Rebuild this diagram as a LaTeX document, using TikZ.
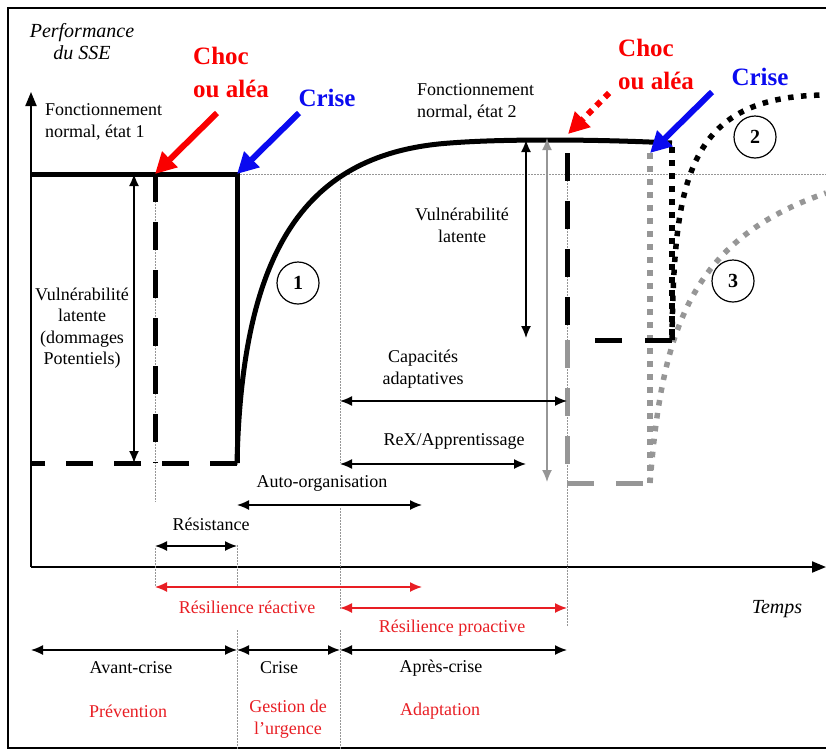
\documentclass[tikz,border=0pt]{standalone}
\usepackage{fontspec}
\setmainfont{Liberation Serif}
\usetikzlibrary{arrows.meta,positioning}
\definecolor{alea}{RGB}{250,0,0}
\definecolor{crisecol}{RGB}{10,10,240}
\definecolor{resred}{RGB}{232,30,36}
\definecolor{greyline}{RGB}{150,150,150}
\tikzset{%
	txt/.style      = {font=\fontsize{18}{22}\selectfont, align=center, inner sep=0pt},
	redtxt/.style   = {txt, text=resred},
	eventtxt/.style = {font=\fontsize{25}{33}\selectfont\bfseries, align=left, inner sep=0pt},
	axtxt/.style    = {font=\fontsize{20}{22}\selectfont\itshape, align=center, inner sep=0pt},
	numcircle/.style= {draw, circle, line width=1.2pt, minimum size=42pt, inner sep=0pt, font=\fontsize{20}{20}\selectfont\bfseries},
	guide/.style    = {greyline, line width=0.8pt, dash pattern=on 1.5pt off 1.5pt},
	perfline/.style = {line width=5pt},
	longdash/.style = {line width=5pt, dash pattern=on 28pt off 20pt},
	sqdots/.style   = {line width=5.5pt, dash pattern=on 5.5pt off 7.5pt},
	spanarrow/.style= {line width=1.4pt, {Latex[length=12pt,width=10pt]}-{Latex[length=12pt,width=10pt]}},
	bigarrow/.style = {line width=6pt, -{Triangle[length=21pt,width=21pt]}},
}
\begin{document}
\begin{tikzpicture}[x=1pt,y=-1pt]
	\useasboundingbox (0,0) rectangle (826,750);
	\draw[line width=2.5pt] (840,8) -- (8,8) -- (8,748) -- (840,748);
	% axes and time marks
	\coordinate (o) at (31,567);
	\coordinate (ytop) at (31,92);
	\coordinate (xend) at (826,567);
	\coordinate (tV) at (134,567);
	\coordinate (tC) at (155,567);
	\coordinate (tK) at (237,567);
	\coordinate (tA) at (340,567);
	\coordinate (tR) at (422,567);
	\coordinate (tX) at (526,567);
	\coordinate (tG) at (547,567);
	\coordinate (tB) at (567,567);
	\draw[line width=2pt,-{Triangle[length=14pt,width=11pt]}] (o) -- (ytop);
	\draw[line width=2pt,-{Triangle[length=14pt,width=11pt]}] (o) -- (xend);
	% levels
	\coordinate (hiL) at (31,174);
	\coordinate (hiC) at (155,174);
	\coordinate (hiK) at (237,174);
	\coordinate (hiR) at (826,174);
	\coordinate (loL) at (31,463);
	\coordinate (loC) at (155,463);
	\coordinate (loK) at (237,463);
	\coordinate (top2) at (672,143);
	\coordinate (dropB) at (567,153);
	\coordinate (midB) at (567,340);
	\coordinate (loB) at (567,483);
	\coordinate (loG) at (650,483);
	\coordinate (hiG) at (650,153);
	\coordinate (hiD) at (672,147);
	\coordinate (midD) at (672,340);
	\coordinate (dashD) at (595,340);
	% thin guides
	\draw[guide] (hiK) -- (hiR);
	\draw[guide] (hiC) -- (155,502) (155,548) -- (155,587);
	\draw[guide] (loK) -- (237,465) (237,545) -- (237,587) (237,630) -- (237,750);
	\draw[guide] (340,174) -- (340,463) (340,508) -- (340,610) (340,630) -- (340,750);
	\draw[guide] (dropB) -- (567,627);
	% situation 1
	\draw[perfline] (hiL) -- (hiK) -- (loK);
	\draw[longdash, dash pattern=on 27pt off 21pt] (loK) -- (loL);
	\draw[longdash] (hiC) -- (loC);
	\draw[perfline] (loK) .. controls (242,250) and (305,153) .. (450,143) .. controls (500,139) and (590,139) .. (top2);
	% situations 2 and 3
	\draw[longdash, greyline] (midB) -- (loB);
	\draw[longdash, greyline, dash pattern=on 27pt off 22pt] (loB) -- (loG);
	\draw[sqdots, greyline] (hiG) -- (loG);
	\draw[sqdots, greyline] (loG) .. controls (662,330) and (690,240) .. (826,193);
	\draw[longdash] (dropB) -- (midB);
	\draw[sqdots] (hiD) -- (midD);
	\draw[longdash, dash pattern=on 27pt off 23pt] (midD) -- (dashD);
	\draw[sqdots] (midD) .. controls (674,180) and (686,96) .. (826,95);
	% circled numbers
	\node[numcircle] (cA) at (298,283) {1};
	\node[numcircle] (cB) at (755,137) {2};
	\node[numcircle] (cC) at (733,281) {3};
	% events
	\node[eventtxt, text=alea, anchor=west] (chocA) at (193,72) {Choc\\ou aléa};
	\node[eventtxt, text=crisecol] (criseA) at (327,98) {Crise};
	\node[eventtxt, text=alea, anchor=west] (chocB) at (618,64) {Choc\\ou aléa};
	\node[eventtxt, text=crisecol] (criseB) at (760,77) {Crise};
	\coordinate (chocAtail) at (217,113);
	\coordinate (criseAtail) at (299,113);
	\coordinate (chocBtail) at (609,93);
	\coordinate (chocBtip) at (568,134);
	\coordinate (criseBtail) at (712,92);
	\draw[bigarrow, alea] (chocAtail) -- (hiC);
	\draw[bigarrow, crisecol] (criseAtail) -- (hiK);
	\draw[bigarrow, alea, dash pattern=on 6pt off 6pt] (chocBtail) -- (chocBtip);
	\draw[bigarrow, crisecol] (criseBtail) -- (hiG);
	% texts
	\node[axtxt] (perf) at (82,42) {Performance\\du SSE};
	\node[axtxt] (temps) at (777,609) {Temps};
	\node[txt, align=left, anchor=west] (etatA) at (45,122) {Fonctionnement\\normal, état 1};
	\node[txt, align=left, anchor=west] (etatB) at (417,102) {Fonctionnement\\normal, état 2};
	\node[txt, font=\fontsize{18}{21.5}\selectfont] (vulA) at (82,328) {Vulnérabilité\\latente\\(dommages\\Potentiels)};
	\node[txt] (vulB) at (462,225) {Vulnérabilité\\latente};
	\node[txt] (capa) at (423,369) {Capacités\\adaptatives};
	\node[txt] (rex) at (454,441) {ReX/Apprentissage};
	\node[txt] (autoorg) at (322,483) {Auto-organisation};
	\node[txt] (resist) at (211,524) {Résistance};
	\node[redtxt] (resreac) at (247,607) {Résilience réactive};
	\node[redtxt] (respro) at (452,628) {Résilience proactive};
	\node[txt] (avant) at (131,668) {Avant-crise};
	\node[txt] (crisep) at (279,668) {Crise};
	\node[txt] (apres) at (441,668) {Après-crise};
	\node[redtxt] (prev) at (128,711) {Prévention};
	\node[redtxt] (gest) at (288,719) {Gestion de\\l'urgence};
	\node[redtxt] (adapt) at (440,711) {Adaptation};
	% spans
	\coordinate (rowCap) at (0,401);
	\coordinate (rowRex) at (0,464);
	\coordinate (rowAuto) at (0,505);
	\coordinate (rowRes) at (0,546);
	\coordinate (rowReac) at (0,587);
	\coordinate (rowPro) at (0,608);
	\coordinate (rowPhase) at (0,650);
	\coordinate (vulTop) at (526,140);
	\coordinate (vulBot) at (526,338);
	\coordinate (grTop) at (547,138);
	\coordinate (grBot) at (547,482);
	\draw[spanarrow] (tV |- hiL) -- (tV |- loL);
	\draw[spanarrow] (vulTop) -- (vulBot);
	\draw[spanarrow, greyline] (grTop) -- (grBot);
	\draw[spanarrow] (tA |- rowCap) -- (tB |- rowCap);
	\draw[spanarrow] (tA |- rowRex) -- (tX |- rowRex);
	\draw[spanarrow] (tK |- rowAuto) -- (tR |- rowAuto);
	\draw[spanarrow] (tC |- rowRes) -- (tK |- rowRes);
	\draw[spanarrow, resred] (tC |- rowReac) -- (tR |- rowReac);
	\draw[spanarrow, resred] (tA |- rowPro) -- (tB |- rowPro);
	\draw[spanarrow] (o |- rowPhase) -- (tK |- rowPhase);
	\draw[spanarrow] (tK |- rowPhase) -- (tA |- rowPhase);
	\draw[spanarrow] (tA |- rowPhase) -- (tB |- rowPhase);
\end{tikzpicture}
\end{document}
